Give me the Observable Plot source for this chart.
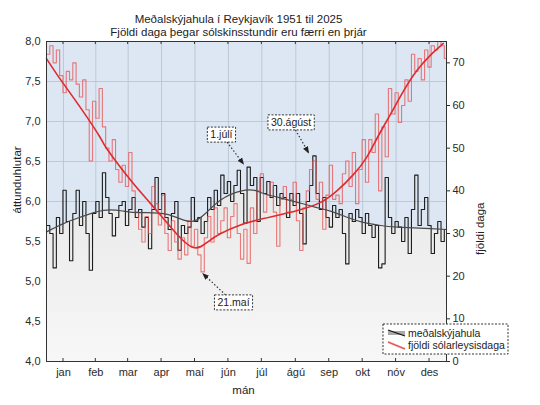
<!DOCTYPE html>
<html><head><meta charset="utf-8">
<script src="https://cdn.jsdelivr.net/npm/d3@7"></script>
<script src="https://cdn.jsdelivr.net/npm/@observablehq/plot@0.6"></script>
<style>
body{margin:0;background:#fff;}
svg{font-family:"Liberation Sans",Arial,sans-serif;}
</style>
</head><body><div id="chart"></div>
<script>
// ---- data ----
const binDays = 3; // each value covers 3 days, starting 1 Jan
const cloudRaw = [5.7,5.6,5.17,5.8,5.6,6.14,5.75,5.26,5.85,6.14,5.7,6.0,5.6,5.14,5.85,6.0,5.8,6.36,6.05,5.85,
  5.57,5.8,5.95,6.0,5.7,5.9,6.05,5.8,5.9,5.68,5.8,5.41,5.9,6.3,5.9,6.1,5.8,5.65,5.85,6.0,
  5.39,5.7,5.6,5.68,6.05,5.75,5.8,5.6,5.75,6.05,5.9,6.14,5.95,6.33,6.1,6.25,6.0,6.2,6.39,6.1,
  5.73,6.43,6.2,6.3,5.75,6.3,6.1,6.25,6.05,6.2,5.95,6.1,6.05,5.8,6.1,5.95,6.1,5.85,5.47,6.0,
  6.2,6.57,6.1,5.9,6.05,5.8,5.68,5.95,5.8,5.9,5.6,5.22,5.85,5.75,5.9,5.8,5.6,5.85,5.7,5.55,
  5.7,5.17,5.22,6.3,5.8,5.6,5.75,5.68,5.5,5.8,5.35,5.9,6.33,5.7,5.9,6.05,5.7,5.35,5.6,5.75,
  5.5,5.65];
const sunlessRaw = [72,74,70,73,67,63,68,66,70,65,62,66,59,47,61,57,64,55,50,47,
  52,45,42,46,41,49,40,35,31,28,34,30,41,37,32,39,30,26,33,28,
  24,29,25,33,27,31,25,21,29,34,28,36,30,33,36,29,34,37,30,24,
  31,23,36,30,40,44,35,39,42,35,27,38,41,35,38,42,33,26,36,40,
  45,47,38,42,31,39,46,38,39,37,44,47,41,49,37,45,52,42,52,49,
  58,40,55,48,64,58,63,56,60,66,61,72,68,71,66,73,69,74,73,75,
  74,71];
const cloudSmoothDays = [0,15,30,52,70,86,110,131,145,159,177,190,198,215,229,245,259,275,289,305,320,350,365];
const cloudSmooth     = [5.62,5.72,5.8,5.89,5.88,5.86,5.84,5.75,5.85,6.02,6.13,6.14,6.1,6.04,5.99,5.93,5.88,5.8,5.74,5.7,5.68,5.66,5.65];
const sunlessSmoothDays = [0,13,31,49,56,77,95,116,134,147,159,177,198,229,250,265,280,292,302,314,326,338,350,362];
const sunlessSmooth     = [71,66,59.5,52.5,49.5,42.4,37,30.7,26.7,28,30,32,33.5,35.4,37.3,40,43.8,47.8,52.5,58,63.5,68.2,71.7,74.5];
const monthDays   = [15.5,45,74.5,105,135.5,166,196.5,227.5,258,288.5,319,349.5];
const monthLabels = ["jan","feb","mar","apr","maí","jún","júl","ágú","sep","okt","nóv","des"];
const leftTicks  = [4,4.5,5,5.5,6,6.5,7,7.5,8];
const rightTicks = [0,10,20,30,40,50,60,70];
const annotLabels = ["1.júlí","30.ágúst","21.maí"];
const annotDays   = [182,241,141];
const annotValues = [6.43,6.57,21];
const annotSeries = ["cloud","cloud","sunless"];
const legendLabels = ["meðalskýjahula","fjöldi sólarleysisdaga"];

(function(){
// right axis (0–75 days) onto left axis (4–8 octas)
const rightMax = 75;
const toLeft = v => 4 + v * 4 / rightMax;

const withEnd = arr => {
  const rows = arr.map((v,i)=>({day:i*binDays, v}));
  rows.push({day:365, v:arr[arr.length-1]});
  return rows;
};
const cloudRows = withEnd(cloudRaw);
const sunlessRows = withEnd(sunlessRaw);
const cloudSm = cloudSmoothDays.map((d,i)=>({day:d, v:cloudSmooth[i]}));
const sunSm = sunlessSmoothDays.map((d,i)=>({day:d, v:sunlessSmooth[i]}));

const font = '"Liberation Sans",Arial,sans-serif';
const plot = Plot.plot({
  width:540, height:405,
  marginLeft:46, marginRight:94, marginTop:41, marginBottom:44,
  style:{fontFamily:font, fontSize:"11px", background:"white", color:"#2a2a2a", overflow:"visible"},
  x:{domain:[0,365], axis:null},
  y:{domain:[4,8], axis:null},
  marks:[
    Plot.frame({fill:"#dce7f3"}),
    Plot.gridX(monthDays, {stroke:"#b8c5d3", strokeOpacity:0.9}),
    Plot.gridY(leftTicks, {stroke:"#b8c5d3", strokeOpacity:0.9}),
    Plot.areaY(cloudSm, {x:"day", y1:4, y2:"v", curve:"natural", fill:"url(#grayGrad)"}),
    Plot.lineY(cloudRows, {x:"day", y:"v", curve:"step-after", stroke:"#1c1c1c", strokeWidth:1.1}),
    Plot.lineY(sunlessRows, {x:"day", y:d=>toLeft(d.v), curve:"step-after", stroke:"#e85050", strokeWidth:1.1, strokeOpacity:0.75}),
    Plot.line(cloudSm, {x:"day", y:"v", curve:"natural", stroke:"#4a4a4a", strokeWidth:1.2}),
    Plot.line(sunSm, {x:"day", y:d=>toLeft(d.v), curve:"natural", stroke:"#df2a2e", strokeWidth:1.6}),
    Plot.axisY(leftTicks, {anchor:"left", tickSize:0, tickPadding:6, label:null, fontSize:11,
      tickFormat:d=>d.toFixed(1).replace(".",",")}),
    Plot.axisY(rightTicks.map(toLeft), {anchor:"right", tickSize:3, tickPadding:3, label:null, fontSize:11,
      tickFormat:d=>String(Math.round((d-4)*rightMax/4))}),
    Plot.axisX(monthDays, {anchor:"bottom", tickSize:0, tickPadding:7, label:null, fontSize:11,
      tickFormat:d=>monthLabels[monthDays.indexOf(d)]}),
    Plot.frame({stroke:"#333"}),
    Plot.text(["Meðalskýjahula í Reykjavík 1951 til 2025"], {frameAnchor:"top", dy:-27, dx:-8, fontSize:11.5, fill:"#222"}),
    Plot.text(["Fjöldi daga þegar sólskinsstundir eru færri en þrjár"], {frameAnchor:"top", dy:-14, dx:-8, fontSize:11.5, fill:"#222"}),
    Plot.text(["áttunduhlutar"], {frameAnchor:"left", rotate:-90, dx:-29, dy:12, fontSize:11.5, fill:"#222"}),
    Plot.text(["fjöldi daga"], {frameAnchor:"right", rotate:-90, dx:34, dy:1, fontSize:11.5, fill:"#222"}),
    Plot.text(["mán"], {frameAnchor:"bottom", dy:32, dx:-3, fontSize:11.5, fill:"#222"})
  ]
});
document.getElementById("chart").appendChild(plot);

// ---- extras drawn with the plot's own scales ----
const svg = d3.select(plot);
const sx = plot.scale("x"), sy = plot.scale("y");
const defs = svg.insert("defs", ":first-child");
const g = defs.append("linearGradient").attr("id","grayGrad").attr("x1",0).attr("y1",0).attr("x2",0).attr("y2",1);
g.append("stop").attr("offset","0%").attr("stop-color","#e9e9e9");
g.append("stop").attr("offset","100%").attr("stop-color","#f7f7f7");
defs.append("marker").attr("id","ah").attr("viewBox","0 0 10 10").attr("refX",9).attr("refY",5)
  .attr("markerWidth",7).attr("markerHeight",7).attr("markerUnits","userSpaceOnUse").attr("orient","auto")
  .append("path").attr("d","M0,1L10,5L0,9Z").attr("fill","#222");

const yr = sy.range;
const yTop = Math.min(yr[0],yr[1]), yBot = Math.max(yr[0],yr[1]);
const extra = svg.append("g");
// inward month ticks top and bottom
monthDays.forEach(d=>{
  const x = sx.apply(d);
  extra.append("line").attr("x1",x).attr("x2",x).attr("y1",yBot).attr("y2",yBot-3).attr("stroke","#333");
  extra.append("line").attr("x1",x).attr("x2",x).attr("y1",yTop).attr("y2",yTop+3).attr("stroke","#333");
});

// annotations: box offsets (px) relative to the pointed value
const boxOffsets = [[-24,-32],[-19,-33],[33,31]];
annotLabels.forEach((lab,i)=>{
  const tx = sx.apply(annotDays[i]);
  const ty = sy.apply(annotSeries[i]==="cloud" ? annotValues[i] : toLeft(annotValues[i]));
  const bx = tx + boxOffsets[i][0], by = ty + boxOffsets[i][1];
  const gg = extra.append("g");
  const t = gg.append("text").attr("x",bx).attr("y",by).attr("text-anchor","middle").attr("dy","0.35em")
    .attr("font-size",10.5).attr("fill","#222").text(lab);
  const w = t.node().getComputedTextLength() + 6, h = 15;
  gg.insert("rect","text").attr("x",bx-w/2).attr("y",by-h/2).attr("width",w).attr("height",h)
    .attr("fill","white").attr("stroke","#333").attr("stroke-dasharray","2,1.5");
  const dx = tx-bx, dy = ty-by;
  const s = Math.min(Math.abs((w/2)/dx), Math.abs((h/2)/dy));
  const sx0 = bx + dx*s, sy0 = by + dy*s;
  const len = Math.hypot(tx-sx0, ty-sy0), gap = 3;
  const ex = tx - (tx-sx0)/len*gap, ey = ty - (ty-sy0)/len*gap;
  gg.append("line").attr("x1",sx0).attr("y1",sy0).attr("x2",ex).attr("y2",ey)
    .attr("stroke","#333").attr("stroke-width",1.2).attr("stroke-dasharray","1.5,2").attr("marker-end","url(#ah)");
});

// legend
const lx = 383, ly = 324, lw = 125, lh = 30;
extra.append("rect").attr("x",lx).attr("y",ly).attr("width",lw).attr("height",lh)
  .attr("fill","white").attr("stroke","#333").attr("stroke-dasharray","2,1.5");
const symY = [ly+9, ly+21];
extra.append("line").attr("x1",lx+5).attr("x2",lx+22).attr("y1",symY[0]).attr("y2",symY[0]).attr("stroke","#aaa").attr("stroke-width",4);
extra.append("line").attr("x1",lx+5).attr("x2",lx+22).attr("y1",symY[0]-3).attr("y2",symY[0]+3).attr("stroke","#111").attr("stroke-width",1.2);
extra.append("line").attr("x1",lx+5).attr("x2",lx+22).attr("y1",symY[1]-3).attr("y2",symY[1]+4).attr("stroke","#f19a9a").attr("stroke-width",2);
extra.append("line").attr("x1",lx+5).attr("x2",lx+22).attr("y1",symY[1]-3).attr("y2",symY[1]+4).attr("stroke","#e03a3a").attr("stroke-width",0.8);
legendLabels.forEach((lab,i)=>{
  extra.append("text").attr("x",lx+25).attr("y",symY[i]).attr("dy","0.35em").attr("text-anchor","start")
    .attr("font-size",10.5).attr("fill","#222").text(lab);
});
})();
</script>
</body></html>
